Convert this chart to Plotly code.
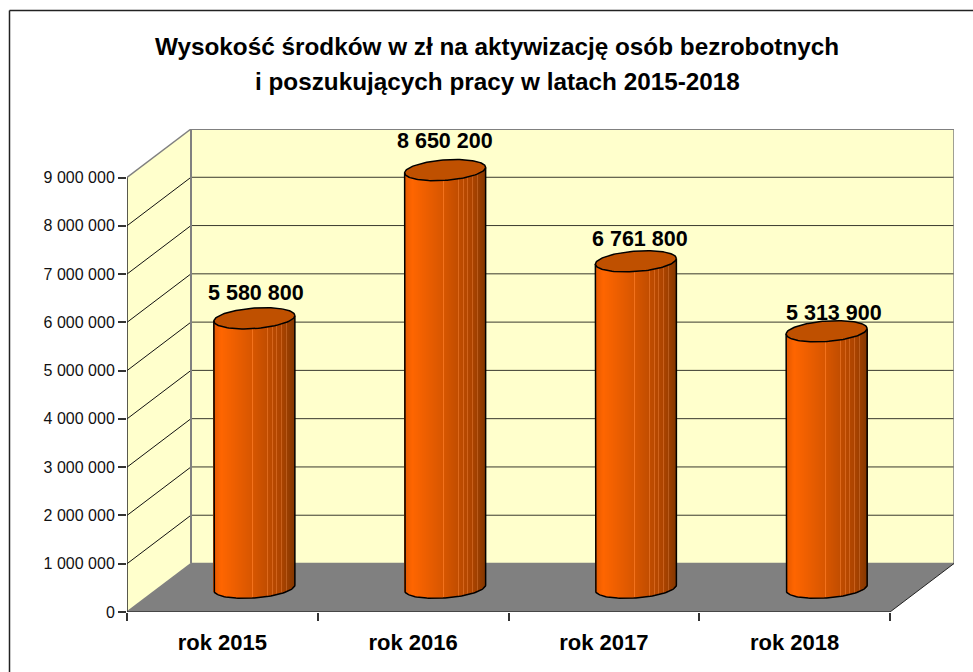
import numpy as np
import plotly.graph_objects as go

CATEGORIES = ["rok 2015", "rok 2016", "rok 2017", "rok 2018"]
VALUES = [5580800, 8650200, 6761800, 5313900]
VALUE_LABELS = ["5 580 800", "8 650 200", "6 761 800", "5 313 900"]
Y_TICKS = [0, 1000000, 2000000, 3000000, 4000000, 5000000, 6000000, 7000000, 8000000, 9000000]
Y_TICK_LABELS = ["0", "1 000 000", "2 000 000", "3 000 000", "4 000 000", "5 000 000",
                 "6 000 000", "7 000 000", "8 000 000", "9 000 000"]
TITLE_LINES = ["Wysokość środków w zł na aktywizację osób bezrobotnych",
               "i poszukujących pracy w latach 2015-2018"]
LABEL_SHIFT_X = [2, 0, 4, 7]
LABEL_SHIFT_Y = [25, 29, 22, 18]

W, H = 973, 672
# pixel frame of the oblique 3D box
PX_L, PX_R, PX_B, PX_T = 127.0, 890.0, 612.0, 177.5
DEPTH_X, DEPTH_Y = 64.0, 48.5
PER_X = len(CATEGORIES) / (PX_R - PX_L)      # x units per px
PER_Y = Y_TICKS[-1] / (PX_B - PX_T)          # value units per px
DX = DEPTH_X * PER_X
DY = DEPTH_Y * PER_Y
XMAX = len(CATEGORIES)
YMAX = Y_TICKS[-1]
RANGE_X = [0, XMAX + DX]
RANGE_Y = [0, YMAX + DY]

WALL = "#FFFFCC"
FLOOR = "#808080"
EDGE = "#808080"
GRID = "#3A3A2E"
AXIS = "#222222"
TEXT = "#000000"
FONT = "Liberation Sans, Arial, sans-serif"
CAP = "#BF5000"

STOP_POS = [0.0, 0.10, 0.5, 0.85, 1.0]
STOP_RGB = [(226, 88, 0), (255, 102, 0), (214, 86, 0), (172, 68, 0), (134, 56, 0)]
SEAMS = [0.49, 0.67, 0.73, 0.79, 0.85, 0.91]

shapes = []
def poly(pts, fill):
    path = "M " + " L ".join(f"{x},{y}" for x, y in pts) + " Z"
    shapes.append(dict(type="path", path=path, xref="x", yref="y", fillcolor=fill,
                       line=dict(width=0), layer="below"))
def seg(a, b, color, width):
    shapes.append(dict(type="line", xref="x", yref="y", x0=a[0], y0=a[1], x1=b[0], y1=b[1],
                       line=dict(color=color, width=width), layer="below"))

poly([(DX, DY), (XMAX + DX, DY), (XMAX + DX, YMAX + DY), (DX, YMAX + DY)], WALL)
poly([(0, 0), (DX, DY), (DX, YMAX + DY), (0, YMAX)], WALL)
poly([(0, 0), (XMAX, 0), (XMAX + DX, DY), (DX, DY)], FLOOR)
for v in Y_TICKS[1:-1]:
    seg((DX, v + DY), (XMAX + DX, v + DY), GRID, 1)
    seg((0, v), (DX, v + DY), "#111111", 1)
seg((DX, DY), (XMAX + DX, DY), EDGE, 1.5)
seg((DX, DY), (DX, YMAX + DY), EDGE, 2)
seg((DX, YMAX + DY), (XMAX + DX, YMAX + DY), EDGE, 2)
seg((XMAX + DX, DY), (XMAX + DX, YMAX + DY), EDGE, 1.5)
seg((0, YMAX), (DX, YMAX + DY), EDGE, 1.5)
seg((0, 0), (DX, DY), EDGE, 1.5)
seg((XMAX, 0), (XMAX + DX, DY), "#222222", 1)

# Frame lines
FRAME_L, FRAME_T = 9.5, 10.5
for x0, y0, x1, y1 in [(FRAME_L, FRAME_T, W, FRAME_T), (FRAME_L, FRAME_T, FRAME_L, H)]:
    shapes.append(dict(type="line", xref="paper", yref="paper", x0=x0 / W, x1=x1 / W,
                       y0=1 - y0 / H, y1=1 - y1 / H, line=dict(color="#222222", width=1.5)))

RADIUS_X = 40.5 * PER_X
RADIUS_PX_Y = 10.2
TILT_PX = 2.8
N = 81

def strip_colors():
    out = []
    for i in range(N):
        t = (i + 0.5) / N
        rgb = [np.interp(t, STOP_POS, [c[k] for c in STOP_RGB]) for k in range(3)]
        if any(abs(t - s) < 0.5 / N for s in SEAMS):
            rgb = [min(255, c + 28) for c in rgb]
        out.append("rgb(%d,%d,%d)" % tuple(rgb))
    return out

fig = go.Figure()
colors = strip_colors()
annotations = []
for i, (cat, v) in enumerate(zip(CATEGORIES, VALUES)):
    cx = i + 0.5 + DX / 2
    base = DY / 2
    u = (np.arange(N) + 0.5) / N * 2 - 1
    low_px = RADIUS_PX_Y * np.sqrt(1 - u ** 2) - TILT_PX * u
    fig.add_trace(go.Bar(x=cx + u * RADIUS_X, y=[v] * N, base=base - low_px * PER_Y,
                         width=RADIUS_X * 2 / N * 1.25, marker=dict(color=colors, line=dict(width=0)),
                         hoverinfo="skip", showlegend=False, name=cat))
    t = np.linspace(0, 2 * np.pi, 121)
    ex = cx + RADIUS_X * np.cos(t)
    ey = (RADIUS_PX_Y * np.sin(t) + TILT_PX * np.cos(t)) * PER_Y
    fig.add_trace(go.Scatter(x=ex, y=base + v + ey, mode="lines", fill="toself", fillcolor=CAP,
                             line=dict(color="#000000", width=1.5), hoverinfo="skip",
                             showlegend=False, cliponaxis=False))
    t2 = np.linspace(np.pi, 2 * np.pi, 61)
    ox = cx + RADIUS_X * np.cos(t2)
    oy = base + (RADIUS_PX_Y * np.sin(t2) + TILT_PX * np.cos(t2)) * PER_Y
    ox = np.r_[cx - RADIUS_X, ox, cx + RADIUS_X]
    oy = np.r_[base + v - TILT_PX * PER_Y, oy, base + v + TILT_PX * PER_Y]
    fig.add_trace(go.Scatter(x=ox, y=oy, mode="lines", line=dict(color="#000000", width=1.5),
                             hoverinfo="skip", showlegend=False))
    annotations.append(dict(x=cx, y=base + v, xref="x", yref="y", text="<b>%s</b>" % VALUE_LABELS[i],
                            showarrow=False, xshift=LABEL_SHIFT_X[i], yshift=LABEL_SHIFT_Y[i],
                            font=dict(family=FONT, size=21.5, color=TEXT)))

# front axis lines
fig.add_trace(go.Scatter(x=[0, 0], y=[0, YMAX], mode="lines", line=dict(color=AXIS, width=1.5),
                         hoverinfo="skip", showlegend=False, cliponaxis=False))
fig.add_trace(go.Scatter(x=[0, XMAX], y=[0, 0], mode="lines", line=dict(color="#333333", width=1.5),
                         hoverinfo="skip", showlegend=False, cliponaxis=False))
# carrier for the category label axis
fig.add_trace(go.Scatter(x=[0.5, 1.5, 2.5, 3.5], y=[0, 0, 0, 0], xaxis="x2", mode="markers",
                         marker=dict(opacity=0, size=1), hoverinfo="skip", showlegend=False))

for line, yp in zip(TITLE_LINES, [47, 81]):
    annotations.append(dict(x=497 / W, y=1 - yp / H, xref="paper", yref="paper", text="<b>%s</b>" % line,
                            showarrow=False, xanchor="center", yanchor="middle",
                            font=dict(family=FONT, size=24.3, color=TEXT)))

fig.update_layout(
    width=W, height=H, margin=dict(l=0, r=0, t=0, b=0), autosize=False,
    paper_bgcolor="#FFFFFF", plot_bgcolor="#FFFFFF", showlegend=False, barmode="overlay",
    shapes=shapes, annotations=annotations,
    xaxis=dict(domain=[PX_L / W, (PX_R + DEPTH_X) / W], range=RANGE_X, tickvals=list(range(XMAX + 1)),
               ticktext=[""] * (XMAX + 1), ticks="outside", ticklen=8, tickwidth=1.5, tickcolor="#333333",
               showgrid=False, zeroline=False, showline=False, automargin=False),
    xaxis2=dict(domain=[PX_L / W, (PX_R + DEPTH_X) / W], range=RANGE_X, overlaying="x", anchor="y",
                side="bottom", tickvals=[0.5, 1.5, 2.5, 3.5], ticktext=["<b>%s</b>" % c for c in CATEGORIES],
                ticks="outside", ticklen=11, tickcolor="rgba(0,0,0,0)", automargin=False,
                tickfont=dict(family=FONT, size=22, color=TEXT), showgrid=False, zeroline=False),
    yaxis=dict(domain=[1 - PX_B / H, 1 - (PX_T - DEPTH_Y) / H], range=RANGE_Y, tickvals=Y_TICKS,
               ticktext=Y_TICK_LABELS, ticks="outside", ticklen=8, tickwidth=1.5, tickcolor="#333333",
               tickfont=dict(family=FONT, size=16, color="#111111"), automargin=False,
               showgrid=False, zeroline=False, showline=False),
)

fig.write_html("out.html", config=dict(displayModeBar=False),
               post_script="document.body.style.margin='0';document.body.style.overflow='hidden';")
